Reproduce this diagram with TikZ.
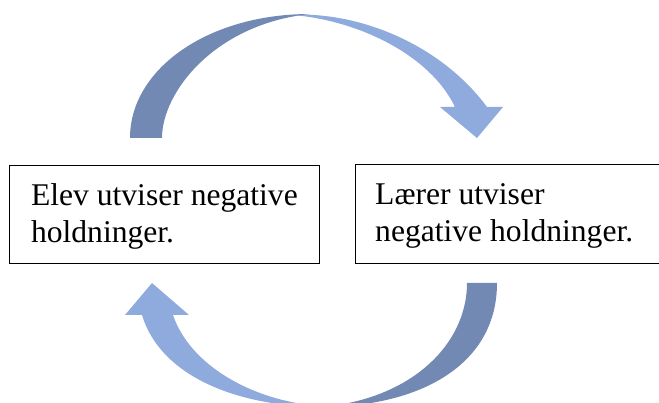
\documentclass[tikz,border=0pt]{standalone}
\usepackage{fontspec}
\setmainfont{Liberation Serif}
\definecolor{arrowlight}{RGB}{143,170,220}
\definecolor{arrowdark}{RGB}{114,137,180}
\begin{document}
\begin{tikzpicture}[x=1pt,y=-1pt,
  boxtext/.style={anchor=north west, align=left,
    font=\fontsize{31.6pt}{37pt}\selectfont,
    text height=62pt, text depth=6pt, inner ysep=0pt},
  frame/.style={draw=black, line width=0.8pt},
  lightpart/.style={fill=arrowlight},
  darkpart/.style={fill=arrowdark}]
\useasboundingbox (0,0) rectangle (659,403);
\clip (0,0) rectangle (659,403);

% boxes
\node[boxtext, frame, minimum width=310pt, minimum height=98pt, inner xsep=21.5pt]
  (elev) at (9,165) {Elev utviser negative\\holdninger.};
\node[boxtext, minimum height=99pt, inner xsep=20pt]
  (laerer) at (355,164) {Lærer utviser\\negative holdninger.};
\coordinate (rim) at (659,0);
\draw[frame] (laerer.north west -| rim) -- (laerer.north west)
  -- (laerer.south west) -- (laerer.south west -| rim);

% top curved arrow
\fill[lightpart] (298,14.5) .. controls (370,14) and (445,50) .. (487,107)
  -- (503,107) -- (477,138) -- (440,107) -- (455,107)
  .. controls (430,55) and (360,22) .. (298,15.5) -- cycle;
\fill[darkpart] (130,138) .. controls (130,69) and (208,14) .. (310,14)
  .. controls (215,24) and (162,92) .. (162,138) -- cycle;

% bottom curved arrow
\fill[lightpart] (325,407) .. controls (235,407) and (160,375) .. (142,315)
  -- (125,315) -- (152,283) -- (189,315) -- (173,315)
  .. controls (190,365) and (250,398) .. (310,405) -- cycle;
\fill[darkpart] (497,283) .. controls (497,365) and (420,407) .. (320,407)
  .. controls (410,400) and (467,345) .. (467,283) -- cycle;
\end{tikzpicture}
\end{document}
